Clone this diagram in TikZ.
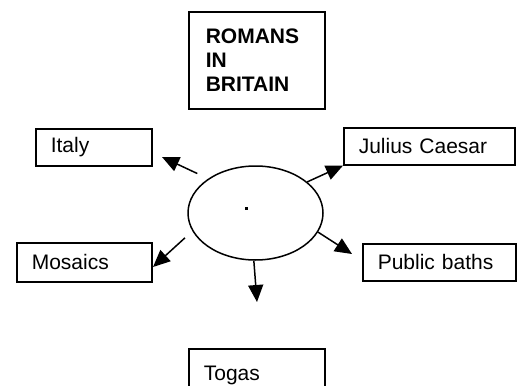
\documentclass[tikz,border=0pt]{standalone}
\usepackage{fontspec}
\setmainfont{Liberation Sans}
\usetikzlibrary{shapes.geometric,arrows.meta}

\begin{document}
\begin{tikzpicture}[x=1pt, y=-1pt,
    topicbox/.style={draw, line width=1.6pt, anchor=north west, align=left,
      inner xsep=15pt, inner ysep=0pt, minimum height=37pt,
      font=\fontsize{21}{24}\selectfont},
    arr/.style={line width=1.5pt, -{Triangle[length=17pt, width=15pt]}}]
        \useasboundingbox (0,0) rectangle (521,385);
        \clip (0,0) rectangle (521,385);
        \node[topicbox, text width=102pt, inner xsep=17pt, minimum height=97pt,
          font=\bfseries\fontsize{21}{24}\selectfont] (title) at (188,11) {ROMANS\\IN\\BRITAIN};
        \node[topicbox, text width=86pt] (italy) at (35,128) {Italy};
        \node[topicbox, text width=141pt] (julius) at (343,127) {Julius Caesar};
        \node[topicbox, text width=105pt, minimum height=39pt] (mosaics) at (16,242) {Mosaics};
        \node[topicbox, text width=123pt] (baths) at (362,243) {Public baths};
        \node[topicbox, text width=106pt, minimum height=53pt] (togas) at (188,348) {Togas};
        \node[draw, ellipse, line width=1.5pt, inner sep=0pt,
          minimum width=135pt, minimum height=94pt] (topic) at (255.5,213) {};
        \fill (244.5,206.5) rectangle (247.5,209.5);
        \coordinate (italytip) at (162,157);
        \coordinate (mosaicstip) at (153,267);
        \coordinate (bathstip) at (352,254);
        \coordinate (togastip) at (257,302);
        \draw[arr, shorten <=12pt] (topic.144) -- (italytip);
        \draw[arr] (topic.31) -- (julius.south west);
        \draw[arr, shorten <=10pt] (topic.196) -- (mosaicstip);
        \draw[arr] (topic.343) -- (bathstip);
        \draw[arr] (topic.268) -- (togastip);
      \end{tikzpicture}
\end{document}
